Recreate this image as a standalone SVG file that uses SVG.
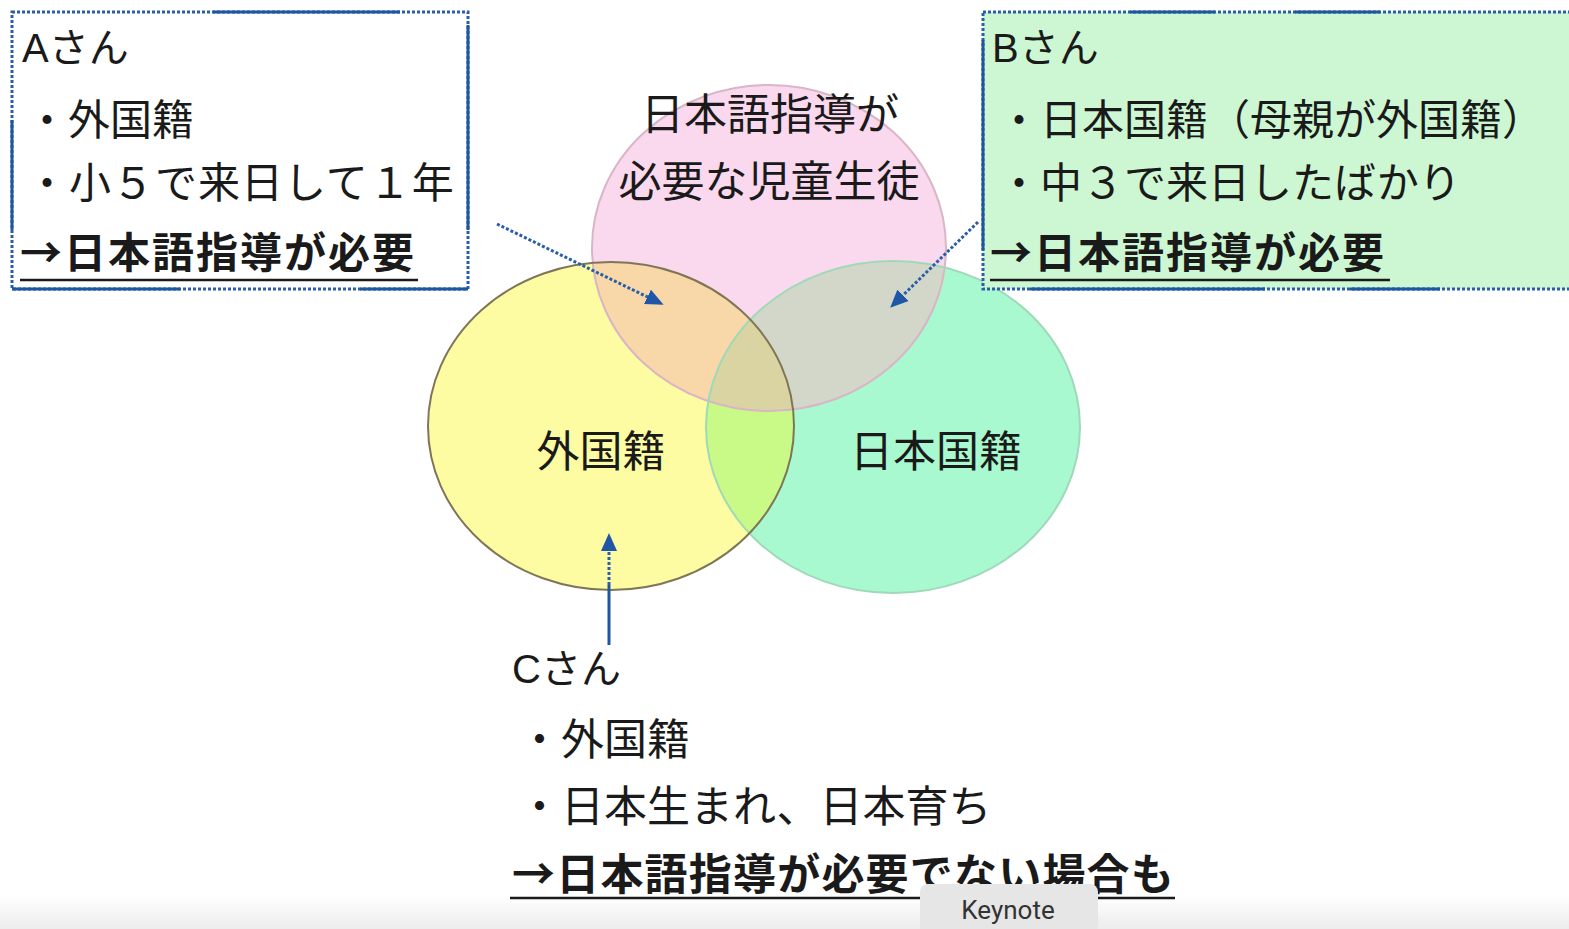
<svg xmlns="http://www.w3.org/2000/svg" width="1569" height="929" viewBox="0 0 1569 929">
<style>
.t{font-family:"Liberation Sans","Noto Sans CJK JP",sans-serif;fill:#1a1a1a;}
.j{font-family:"Noto Sans CJK JP",sans-serif;}
.b{font-weight:bold;}
.dot{fill:none;stroke:#2a5ea8;stroke-width:3;stroke-dasharray:3 2;}
.sol{fill:none;stroke:#1f56a0;stroke-width:3;}
.ul{stroke:#1a1a1a;stroke-width:2.5;}
</style>
<defs>
<marker id="ah" markerWidth="18" markerHeight="16" refX="14" refY="8" orient="auto" markerUnits="userSpaceOnUse" viewBox="0 0 18 16">
<path d="M0,0 L18,8 L0,16 z" fill="#1f56a8"/>
</marker>
<clipPath id="cy"><ellipse cx="611" cy="426" rx="183" ry="164"/></clipPath>
<clipPath id="cp"><ellipse cx="769" cy="248" rx="177" ry="163"/></clipPath>
<clipPath id="cpy" clip-path="url(#cy)"><ellipse cx="769" cy="248" rx="177" ry="163"/></clipPath>
<linearGradient id="bar" x1="0" y1="0" x2="0" y2="1"><stop offset="0" stop-color="#ffffff"/><stop offset="1" stop-color="#ececec"/></linearGradient>
</defs>
<rect width="1569" height="929" fill="#ffffff"/>
<rect x="0" y="895" width="1569" height="34" fill="url(#bar)"/>

<g id="venn">
<ellipse cx="611" cy="426" rx="183" ry="164" fill="#FEFCA2"/>
<ellipse cx="769" cy="248" rx="177" ry="163" fill="#FAD8EE"/>
<ellipse cx="893" cy="427" rx="187" ry="166" fill="#A8F8D0"/>
<ellipse cx="769" cy="248" rx="177" ry="163" fill="#F8D7A8" clip-path="url(#cy)"/>
<ellipse cx="893" cy="427" rx="187" ry="166" fill="#C9FA88" clip-path="url(#cy)"/>
<ellipse cx="893" cy="427" rx="187" ry="166" fill="#D3D7CA" clip-path="url(#cp)"/>
<ellipse cx="893" cy="427" rx="187" ry="166" fill="#DAD3A2" clip-path="url(#cpy)"/>
<ellipse cx="769" cy="248" rx="177" ry="163" fill="none" stroke="#d9b5c6" stroke-width="2"/>
<ellipse cx="893" cy="427" rx="187" ry="166" fill="none" stroke="#9fd9b8" stroke-width="2"/>
<ellipse cx="611" cy="426" rx="183" ry="164" fill="none" stroke="#7f7657" stroke-width="2"/>
</g>

<g id="label-need">
<text class="t" x="770" y="130" font-size="43" text-anchor="middle">日本語指導が</text>
<text class="t" x="769" y="197" font-size="43" text-anchor="middle">必要な児童生徒</text>
</g>
<g id="label-foreign">
<text class="t" x="601" y="467" font-size="43" text-anchor="middle">外国籍</text>
</g>
<g id="label-japanese">
<text class="t" x="936" y="467" font-size="43" text-anchor="middle">日本国籍</text>
</g>

<g id="boxA">
<rect x="12" y="12" width="456" height="277" fill="#ffffff"/>
<rect x="12" y="12" width="456" height="277" class="dot"/>
<path d="M213,12 H400 M468,25 V230 M468,289 H360 M180,289 H12 M12,230 V120" class="sol"/>
<text class="t" x="22" y="62" font-size="40">Aさん</text>
<text class="t" x="26" y="135" font-size="42">・外国籍</text>
<text class="t" x="26" y="198" font-size="42" letter-spacing="1">・小５で来日して１年</text>
<text class="t b" x="20" y="268" font-size="42" letter-spacing="2"><tspan class="j">→</tspan>日本語指導が必要</text>
<line x1="20" y1="280" x2="418" y2="280" class="ul"/>
</g>

<g id="boxB">
<rect x="983" y="12" width="600" height="277" fill="#CDF6D2"/>
<rect x="983" y="12" width="600" height="277" class="dot"/>
<path d="M1130,12 H1215 M1295,12 H1380 M983,40 V250 M1030,289 H1265 M1350,289 H1440" class="sol"/>
<text class="t" x="992" y="62" font-size="40">Bさん</text>
<text class="t" x="998" y="135" font-size="42">・日本国籍（母親が外国籍）</text>
<text class="t" x="998" y="198" font-size="42">・中３で来日したばかり</text>
<text class="t b" x="990" y="268" font-size="42" letter-spacing="2"><tspan class="j">→</tspan>日本語指導が必要</text>
<line x1="990" y1="280" x2="1390" y2="280" class="ul"/>
</g>

<g id="connectors">
<line x1="497" y1="224" x2="660" y2="303" class="dot" marker-end="url(#ah)"/>
<line x1="978" y1="222" x2="893" y2="305" class="dot" marker-end="url(#ah)"/>
<line x1="609" y1="645" x2="609" y2="585" class="sol"/>
<line x1="609" y1="585" x2="609" y2="537" class="dot" marker-end="url(#ah)"/>
</g>

<g id="personC">
<text class="t" x="512" y="683" font-size="40">Cさん</text>
<text class="t" x="518" y="755" font-size="43">・外国籍</text>
<text class="t" x="518" y="822" font-size="43">・日本生まれ、日本育ち</text>
<text class="t b" x="512" y="890" font-size="43" letter-spacing="1.2"><tspan class="j">→</tspan>日本語指導が必要でない場合も</text>
<line x1="510" y1="898" x2="1175" y2="898" class="ul"/>
</g>

<g id="tooltip">
<rect x="920" y="884" width="178" height="60" rx="8" fill="#e6e6e6"/>
<text x="1008" y="919" font-size="26" text-anchor="middle" font-family="Roboto,'Liberation Sans',sans-serif" fill="#333333">Keynote</text>
</g>
</svg>
